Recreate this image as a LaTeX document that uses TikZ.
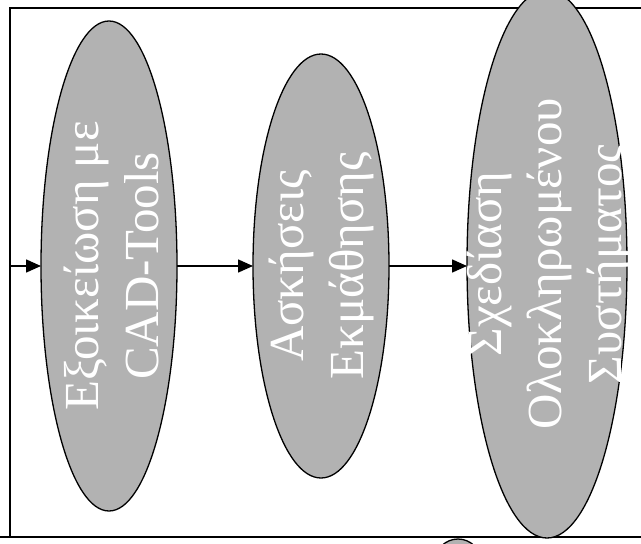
\documentclass[tikz,border=0pt]{standalone}
\usepackage{fontspec}
\setmainfont{Liberation Serif}
\usetikzlibrary{shapes.geometric,arrows.meta}
\definecolor{ovalgray}{RGB}{178,178,178}
\begin{document}
\begin{tikzpicture}[x=1pt,y=-1pt,
  oval/.style={ellipse,draw=black,line width=1.3pt,fill=ovalgray,inner sep=0pt,outer sep=0pt},
  ovaltext/.style={rotate=90,text=white,align=center,font=\fontsize{49}{60}\selectfont},
  frameline/.style={line width=2pt},
  flow/.style={line width=1.6pt,-{Triangle[length=15pt,width=13pt]}}]
\useasboundingbox (0,0) rectangle (641,544);
% frame
\coordinate (ftl) at (10,8);
\coordinate (ftr) at (645,8);
\coordinate (fbl) at (10,537);
\coordinate (fl) at (10,266);
\draw[frameline] (ftr) -- (ftl) -- (fbl);
\draw[frameline] (-5,537) -- (645,537);
% small circle below
\node[circle,draw=black,line width=1.3pt,fill=ovalgray,minimum size=46pt,inner sep=0pt] (c) at (458,562) {};
% ovals
\node[oval,minimum width=136pt,minimum height=490pt] (e1) at (109,266) {};
\node[oval,minimum width=136pt,minimum height=424pt] (e2) at (321,266) {};
\node[oval,minimum width=160pt,minimum height=548pt] (e3) at (547,264) {};
\node[ovaltext] (t1) at ([xshift=2pt]e1.center) {Εξοικείωση με\\CAD-Tools};
\node[ovaltext] (t2) at (e2.center) {Ασκήσεις\\Εκμάθησης};
\node[ovaltext] (t3) at ([xshift=2pt]e3.center) {Σχεδίαση\\Ολοκληρωμένου\\Συστήματος};
% arrows
\draw[flow] (fl) -- (e1.west);
\draw[flow] (e1.east) -- (e2.west);
\draw[flow] (e2.east) -- (e2.east -| e3.west);
\end{tikzpicture}
\end{document}
